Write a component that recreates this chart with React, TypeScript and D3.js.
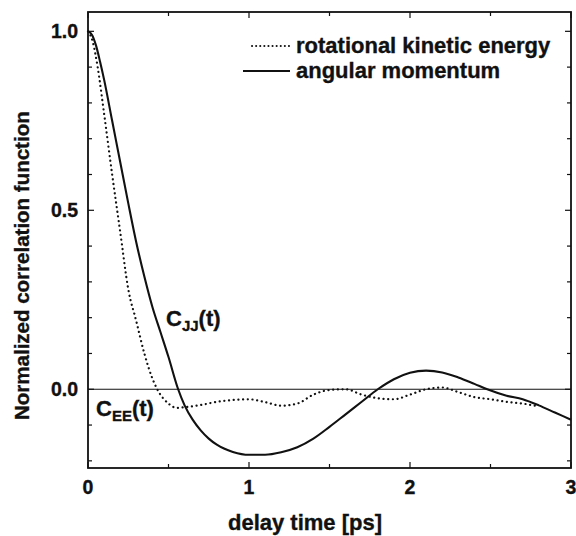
import React from "react";
import * as d3 from "d3";

// C_JJ(t): angular momentum correlation (solid)
const jjTime = [0, 0.025, 0.05, 0.075, 0.1, 0.15, 0.2, 0.25, 0.3, 0.35, 0.4, 0.45, 0.5, 0.56, 0.6, 0.65, 0.7, 0.75, 0.8, 0.9, 1.0, 1.1, 1.2, 1.3, 1.4, 1.5, 1.6, 1.7, 1.8, 1.9, 2.0, 2.1, 2.2, 2.3, 2.4, 2.48, 2.6, 2.7, 2.8, 2.9, 3.0];
const jjValue = [1.0, 0.99, 0.96, 0.915, 0.865, 0.75, 0.635, 0.52, 0.41, 0.315, 0.23, 0.16, 0.09, 0.0, -0.045, -0.085, -0.115, -0.138, -0.155, -0.175, -0.183, -0.183, -0.176, -0.162, -0.138, -0.105, -0.07, -0.035, 0.0, 0.028, 0.046, 0.052, 0.047, 0.033, 0.015, 0.0, -0.018, -0.028, -0.045, -0.065, -0.085];

// C_EE(t): rotational kinetic energy correlation (dotted)
const eeTime = [0, 0.03, 0.06, 0.1, 0.15, 0.2, 0.25, 0.3, 0.35, 0.4, 0.43, 0.5, 0.55, 0.6, 0.7, 0.8, 0.9, 1.0, 1.1, 1.2, 1.3, 1.4, 1.5, 1.6, 1.7, 1.8, 1.9, 2.0, 2.1, 2.2, 2.3, 2.4, 2.5, 2.6, 2.7, 2.8];
const eeValue = [1.0, 0.97, 0.9, 0.77, 0.6, 0.44, 0.28, 0.19, 0.1, 0.03, 0.0, -0.04, -0.052, -0.05, -0.044, -0.035, -0.03, -0.028, -0.036, -0.046, -0.04, -0.015, -0.002, 0.0, -0.015, -0.025, -0.028, -0.015, 0.0, 0.005, -0.008, -0.022, -0.028, -0.035, -0.04, -0.048];

const xTickLabels = [0, 1, 2, 3];
const xTicks = [0, 0.5, 1, 1.5, 2, 2.5, 3];
const yTickLabels = [0, 0.5, 1.0];
const yMinorTicks = [-0.2, -0.1, 0.1, 0.2, 0.3, 0.4, 0.6, 0.7, 0.8, 0.9];
const legendLabels = ["rotational kinetic energy", "angular momentum"];

const W = 576;
const H = 536;
const L = 88, R = 571, T = 12, B = 468;
const FONT = "'Liberation Sans', Arial, Helvetica, sans-serif";
const TXT = { fontWeight: "bold" as const, fill: "#111", stroke: "#111", strokeWidth: 0.35 };

export default function App() {
  const x = d3.scaleLinear().domain([0, 3]).range([L, R]);
  const y = d3.scaleLinear().domain([-0.22, 1.054]).range([B, T]);
  const line = d3
    .line<[number, number]>()
    .x((d) => x(d[0]))
    .y((d) => y(d[1]))
    .curve(d3.curveMonotoneX);
  const jj = jjTime.map((t, i) => [t, jjValue[i]] as [number, number]);
  const ee = eeTime.map((t, i) => [t, eeValue[i]] as [number, number]);

  return (
    <svg width={W} height={H} style={{ position: "absolute", left: 0, top: 0, background: "#fff" }} fontFamily={FONT}>
      <rect x={0} y={0} width={W} height={H} fill="#fff" />
      {/* zero line */}
      <line x1={L} x2={R} y1={y(0)} y2={y(0)} stroke="#111" strokeWidth={1.2} />
      {/* curves */}
      <path d={line(ee) || ""} fill="none" stroke="#111" strokeWidth={2.2} strokeDasharray="0.1 4.6" strokeLinecap="round" />
      <path d={line(jj) || ""} fill="none" stroke="#111" strokeWidth={2.1} />
      {/* frame */}
      <rect x={L} y={T} width={R - L} height={B - T} fill="none" stroke="#111" strokeWidth={1.8} />
      {/* x ticks (bottom & top) */}
      {xTicks.map((t) => {
        const major = Number.isInteger(t);
        const len = major ? 6 : 4;
        return (
          <g key={"xt" + t}>
            <line x1={x(t)} x2={x(t)} y1={B} y2={B - len} stroke="#111" strokeWidth={1.2} />
            <line x1={x(t)} x2={x(t)} y1={T} y2={T + len} stroke="#111" strokeWidth={1.2} />
          </g>
        );
      })}
      {/* y ticks (left & right) */}
      {yTickLabels.map((v) => (
        <g key={"yt" + v}>
          <line x1={L} x2={L + 6} y1={y(v)} y2={y(v)} stroke="#111" strokeWidth={1.2} />
          <line x1={R} x2={R - 6} y1={y(v)} y2={y(v)} stroke="#111" strokeWidth={1.2} />
        </g>
      ))}
      {yMinorTicks.map((v) => (
        <g key={"ym" + v}>
          <line x1={L} x2={L + 4} y1={y(v)} y2={y(v)} stroke="#111" strokeWidth={1.2} />
          <line x1={R} x2={R - 4} y1={y(v)} y2={y(v)} stroke="#111" strokeWidth={1.2} />
        </g>
      ))}
      {/* tick labels */}
      {xTickLabels.map((t) => (
        <text key={"xl" + t} x={x(t)} y={494} textAnchor="middle" fontSize={19.5} {...TXT}>
          {t}
        </text>
      ))}
      {yTickLabels.map((v) => (
        <text key={"yl" + v} x={78} y={y(v) + 7} textAnchor="end" fontSize={19.5} {...TXT}>
          {v.toFixed(1)}
        </text>
      ))}
      {/* axis titles */}
      <text x={228} y={530} textAnchor="start" fontSize={22} {...TXT}>
        delay time [ps]
      </text>
      <text transform={`translate(29, 420) rotate(-90)`} textAnchor="start" fontSize={20.5} {...TXT}>
        Normalized correlation function
      </text>
      {/* legend */}
      <line x1={252} x2={290} y1={46} y2={46} stroke="#111" strokeWidth={2} strokeDasharray="0.1 4" strokeLinecap="round" />
      <text x={296} y={53} fontSize={22} {...TXT}>{legendLabels[0]}</text>
      <line x1={243} x2={290} y1={71} y2={71} stroke="#111" strokeWidth={2} />
      <text x={296} y={78} fontSize={22} {...TXT}>{legendLabels[1]}</text>
      {/* curve annotations */}
      <text x={166} y={326} fontSize={22} {...TXT}>
        C<tspan fontSize={15} dy={5}>JJ</tspan><tspan dy={-5}>(t)</tspan>
      </text>
      <text x={96} y={416} fontSize={22} {...TXT}>
        C<tspan fontSize={15} dy={5}>EE</tspan><tspan dy={-5}>(t)</tspan>
      </text>
    </svg>
  );
}
